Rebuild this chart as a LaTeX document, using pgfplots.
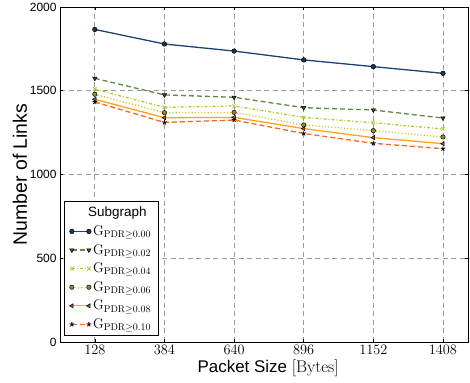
\documentclass[border=0pt]{standalone}
\usepackage{fontspec}
\setsansfont{Liberation Sans}
\usepackage{pgfplots}
\pgfplotsset{compat=1.18}

\definecolor{cA}{HTML}{1A4473}
\definecolor{cB}{HTML}{5E8C45}
\definecolor{cC}{HTML}{A6D12E}
\definecolor{cD}{HTML}{D9C73A}
\definecolor{cE}{HTML}{FFA31A}
\definecolor{cF}{HTML}{F06A22}
\definecolor{gridgray}{HTML}{9A9A9A}

\pgfplotsset{
  twoends/.style={legend image code/.code={
    \draw plot coordinates {(0bp,0bp) (17bp,0bp)};}},
}
\newcommand{\subg}[1]{$\mathrm{G}_{\mathrm{PDR}\geq #1}$}

\begin{document}
\begin{tikzpicture}
\begin{axis}[
  name=ax,
  scale only axis,
  width=408bp, height=335bp,
  xmin=0, xmax=1500,
  ymin=0, ymax=2000,
  xtick={128,384,640,896,1152,1408},
  ytick={0,500,1000,1500,2000},
  grid=major,
  major grid style={gridgray, dash pattern=on 5bp off 3.5bp, line width=0.7bp},
  axis line style={black, line width=0.8bp},
  tick style={black, line width=0.6bp},
  major tick length=3bp,
  tick align=inside,
  xticklabel style={font=\fontsize{13.5}{13.5}\selectfont},
  yticklabel style={font=\fontsize{12}{12}\sffamily, /pgf/number format/assume math mode=true},
  /pgf/number format/1000 sep={},
  xlabel={\sffamily Packet Size {\rmfamily[Bytes]}},
  ylabel={Number of Links},
  every axis x label/.style={at={(axis description cs:0.51,-0.077)},anchor=center,
    font=\fontsize{17}{17}\selectfont},
  every axis y label/.style={at={(axis description cs:-0.098,0.5)},rotate=90,anchor=center,
    font=\fontsize{19.5}{19.5}\sffamily},
  legend style={at={(axis description cs:0.01,0.018)}, anchor=south west,
    draw=black, line width=0.8bp, fill=white, inner xsep=5bp, inner ysep=3.5bp,
    font=\fontsize{14}{14}\selectfont, row sep=3.3bp,
    cells={anchor=west}},
  legend cell align=left,
  every axis plot/.append style={line width=1.3bp, twoends},
]
\addlegendimage{empty legend}
\addlegendentry{\hspace{-5bp}\sffamily\fontsize{13.5}{13.5}\selectfont Subgraph}

\addplot[cA, solid, mark=*, mark size=2.3bp, mark options={solid, fill=cA!80!black, draw=black, line width=0.5bp}]
  coordinates {(128,1866) (384,1779) (640,1737) (896,1684) (1152,1644) (1408,1604)};
\addlegendentry{\subg{0.00}}

\addplot[cB, dash pattern=on 5bp off 3bp, mark=triangle*, mark size=2.5bp, mark options={solid, rotate=180, fill=cB!60!black, draw=black, line width=0.5bp}]
  coordinates {(128,1574) (384,1475) (640,1461) (896,1399) (1152,1385) (1408,1337)};
\addlegendentry{\subg{0.02}}

\addplot[cC, dash pattern=on 3bp off 2bp on 1bp off 2bp, mark=x, mark size=2.5bp, mark options={solid, draw=cC, line width=0.8bp}]
  coordinates {(128,1509) (384,1401) (640,1409) (896,1341) (1152,1309) (1408,1272)};
\addlegendentry{\subg{0.04}}

\addplot[cD, dash pattern=on 1.2bp off 2bp, mark=*, mark size=2.2bp, mark options={solid, fill=cD!70!black, draw=black, line width=0.5bp}]
  coordinates {(128,1479) (384,1369) (640,1371) (896,1296) (1152,1262) (1408,1224)};
\addlegendentry{\subg{0.06}}

\addplot[cE, solid, mark=triangle*, mark size=2.4bp, mark options={solid, rotate=90, fill=cE!60!black, draw=black, line width=0.5bp}]
  coordinates {(128,1449) (384,1339) (640,1341) (896,1274) (1152,1220) (1408,1184)};
\addlegendentry{\subg{0.08}}

\addplot[cF, dash pattern=on 5bp off 3bp, mark=star, mark size=2.4bp, mark options={solid, draw=black, line width=0.8bp}]
  coordinates {(128,1433) (384,1311) (640,1325) (896,1245) (1152,1186) (1408,1154)};
\addlegendentry{\subg{0.10}}
\end{axis}
\pgfresetboundingbox
\path ([shift={(-60bp,-41bp)}]ax.south west) rectangle ([shift={(2bp,7bp)}]ax.north east);
\end{tikzpicture}
\end{document}
